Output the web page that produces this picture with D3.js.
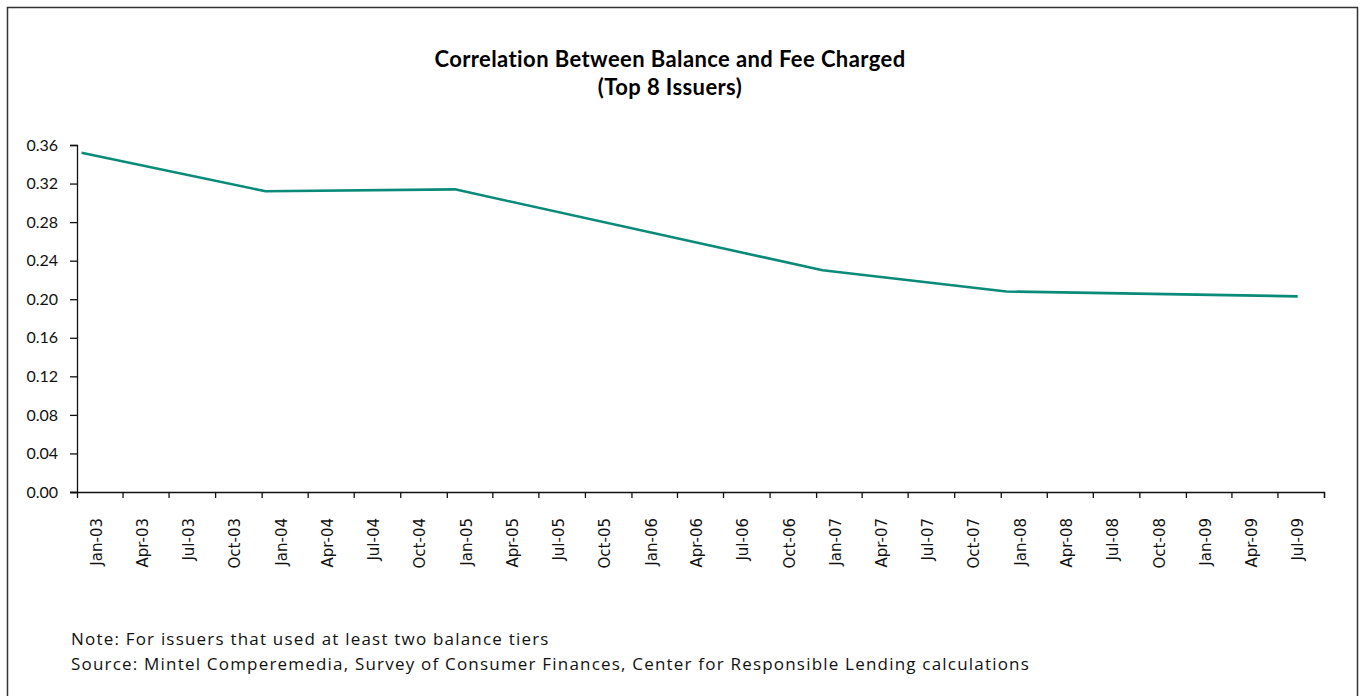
<!DOCTYPE html>
<html>
<head>
<meta charset="utf-8">
<script src="https://cdn.jsdelivr.net/npm/d3@7"></script>
<style>
  body { margin: 0; background: #fff; }
  svg { display: block; }
</style>
</head>
<body>
<svg id="chart"></svg>
<script>
// data
const dates = ["2003-01-10", "2004-01-09", "2005-01-17", "2007-01-14", "2008-01-12", "2009-08-10"];
const values = [0.352, 0.312, 0.314, 0.230, 0.208, 0.203];
const yTicks = [0, 0.04, 0.08, 0.12, 0.16, 0.20, 0.24, 0.28, 0.32, 0.36];
const titleLines = ["Correlation Between Balance and Fee Charged", "(Top 8 Issuers)"];
const notes = [
    "Note: For issuers that used at least two balance tiers",
    "Source: Mintel Comperemedia, Survey of Consumer Finances, Center for Responsible Lending calculations"
];

const width = 1364, height = 696;
const parse = d3.timeParse("%Y-%m-%d");
const data = dates.map((d, i) => ({date: parse(d), value: values[i]}));

const svg = d3.select("#chart")
    .attr("width", width)
    .attr("height", height);

// outer frame (bottom edge falls off the picture)
svg.append("rect")
    .attr("x", 7.5).attr("y", 7.5)
    .attr("width", 1350).attr("height", 720)
    .attr("fill", "none")
    .attr("stroke", "#333")
    .attr("stroke-width", 1.5);

// title
svg.append("g")
    .selectAll("text")
    .data(titleLines)
    .enter().append("text")
    .attr("x", 670)
    .attr("y", (d, i) => 67 + i * 28)
    .attr("text-anchor", "middle")
    .style("font-family", "Lato, sans-serif")
    .style("font-weight", "bold")
    .style("font-size", "22px")
    .style("letter-spacing", "0.4px")
    .text(d => d);

const x = d3.scaleTime()
    .domain([new Date(2003, 0, 1), new Date(2009, 9, 1)])
    .range([77, 1324]);

const y = d3.scaleLinear()
    .domain([0, 0.36])
    .range([492, 145]);

// y axis
const yAxis = svg.append("g")
    .attr("transform", "translate(77,0)")
    .call(d3.axisLeft(y).tickValues(yTicks).tickFormat(d3.format(".2f")).tickSize(7).tickPadding(12));
yAxis.selectAll("text")
    .style("font-family", "Lato, sans-serif")
    .style("font-size", "16px")
    .attr("fill", "#111");
yAxis.selectAll("line, path").attr("stroke", "#111").attr("stroke-width", 1.3);

// x axis: quarterly tick marks, labels rotated and sitting mid-quarter
const quarters = d3.timeMonth.every(3).range(new Date(2003, 0, 1), new Date(2009, 9, 2));
const xAxis = svg.append("g")
    .attr("transform", "translate(0,492)")
    .call(d3.axisBottom(x).tickValues(quarters).tickSize(6).tickFormat(""));
xAxis.select(".domain").attr("d", "M70,0.5H1324.5V6");
xAxis.selectAll("line, path").attr("stroke", "#111").attr("stroke-width", 1.3);

const labelQuarters = quarters.slice(0, quarters.length - 1);
svg.append("g")
    .selectAll("text")
    .data(labelQuarters)
    .enter().append("text")
    .attr("transform", d => "translate(" + (x(d3.timeDay.offset(d, 40)) + 5) + ",518) rotate(-90)")
    .attr("text-anchor", "end")
    .style("font-family", "'DejaVu Sans', sans-serif")
    .style("font-size", "15px")
    .attr("fill", "#111")
    .text(d => d3.timeFormat("%b-%y")(d));

// the line
const line = d3.line()
    .x(d => x(d.date))
    .y(d => y(d.value));

svg.append("path")
    .datum(data)
    .attr("d", line)
    .attr("fill", "none")
    .attr("stroke", "#0a8a78")
    .attr("stroke-width", 2.6)
    .attr("stroke-linejoin", "round");

// notes
svg.append("g")
    .selectAll("text")
    .data(notes)
    .enter().append("text")
    .attr("x", 71)
    .attr("y", (d, i) => 645 + i * 25)
    .style("font-family", "'Open Sans', sans-serif")
    .style("font-size", "17px")
    .style("letter-spacing", "1.2px")
    .attr("fill", "#111")
    .text(d => d);
</script>
</body>
</html>
